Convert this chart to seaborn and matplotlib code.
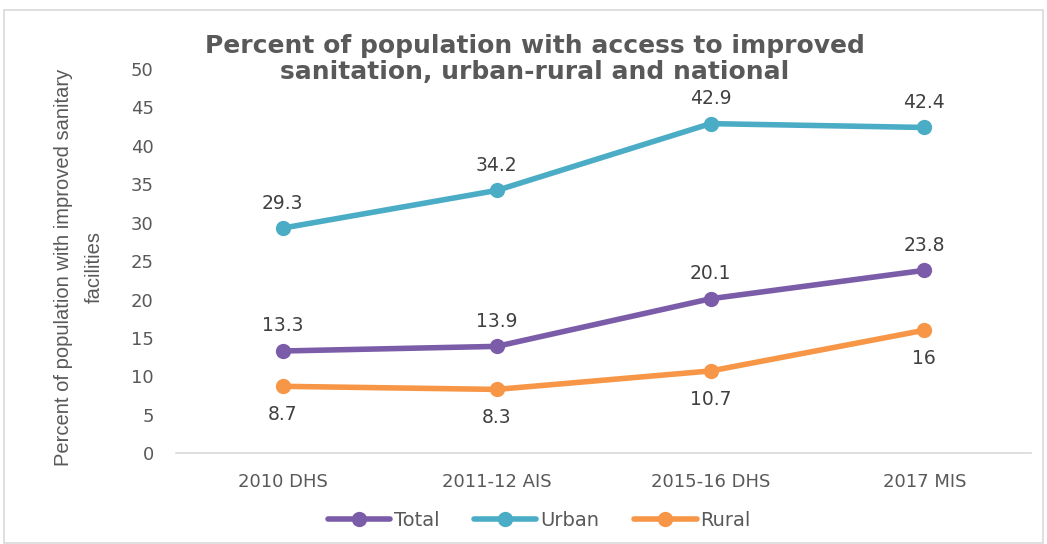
import matplotlib
matplotlib.use("Agg")
import matplotlib.pyplot as plt
import seaborn as sns
import pandas as pd
from matplotlib.patches import Rectangle
from matplotlib.lines import Line2D

surveys = ["2010 DHS", "2011-12 AIS", "2015-16 DHS", "2017 MIS"]
total = [13.3, 13.9, 20.1, 23.8]
urban = [29.3, 34.2, 42.9, 42.4]
rural = [8.7, 8.3, 10.7, 16]
series_names = ["Total", "Urban", "Rural"]
colors = {"Total": "#7B5CA8", "Urban": "#4BACC6", "Rural": "#F79646"}

rows = []
for name, vals in zip(series_names, [total, urban, rural]):
    for i, (s, v) in enumerate(zip(surveys, vals)):
        rows.append({"survey": s, "pos": i, "value": v, "series": name})
df = pd.DataFrame(rows)

sns.set_theme(style="white")
plt.rcParams['font.family'] = ['DejaVu Sans']

fig = plt.figure(figsize=(10.47, 5.44), dpi=100)
ax = fig.add_axes([0.168, 0.167, 0.817, 0.706])

sns.lineplot(data=df, x="pos", y="value", hue="series", palette=colors,
             marker="o", markersize=11, markeredgewidth=0, linewidth=4,
             ax=ax, legend=False)

ax.set_xlim(-0.5, 3.5)
ax.set_ylim(0, 50)
ax.set_yticks(range(0, 51, 5))
ax.set_xticks(range(len(surveys)))
ax.set_xticklabels(surveys)
ax.tick_params(axis="both", colors="#595959", labelsize=13, length=0)
ax.tick_params(axis="x", pad=14)
ax.tick_params(axis="y", pad=16)
for sp in ["top", "right", "left"]:
    ax.spines[sp].set_visible(False)
ax.spines["bottom"].set_color("#D9D9D9")
ax.spines["bottom"].set_linewidth(1.2)
ax.set_xlabel("")
ax.set_ylabel("Percent of population with improved sanitary\nfacilities",
              color="#595959", fontsize=14.5, linespacing=1.8,
              family=["Liberation Sans Narrow", "Liberation Sans", "DejaVu Sans"])
ax.yaxis.set_label_coords(-0.084, 0.485)

label_color = "#404040"
for vals, off in [(urban, 18), (total, 18), (rural, -20.5)]:
    for i, v in enumerate(vals):
        ax.annotate(f"{v:g}", (i, v), xytext=(0, off), textcoords="offset points",
                    ha="center", va="center", fontsize=13.5, color=label_color)

fig.text(0.511, 0.892, "Percent of population with access to improved\nsanitation, urban-rural and national",
         ha="center", va="center", fontsize=18, fontweight="bold", color="#595959",
         linespacing=1.08)

handles = [Line2D([], [], color=colors[n], marker="o", markersize=11, linewidth=4,
                  markeredgewidth=0) for n in series_names]
fig.legend(handles, series_names, loc="center", bbox_to_anchor=(0.515, 0.043), ncol=3,
           frameon=False, fontsize=14, handlelength=3.2, columnspacing=1.8,
           handletextpad=0.2, labelcolor="#595959")

fig.patches.append(Rectangle((0.004, 0.002), 0.992, 0.979, transform=fig.transFigure,
                             fill=False, edgecolor="#D9D9D9", linewidth=1.2))

fig.savefig("out.png", dpi=100, facecolor="white")
